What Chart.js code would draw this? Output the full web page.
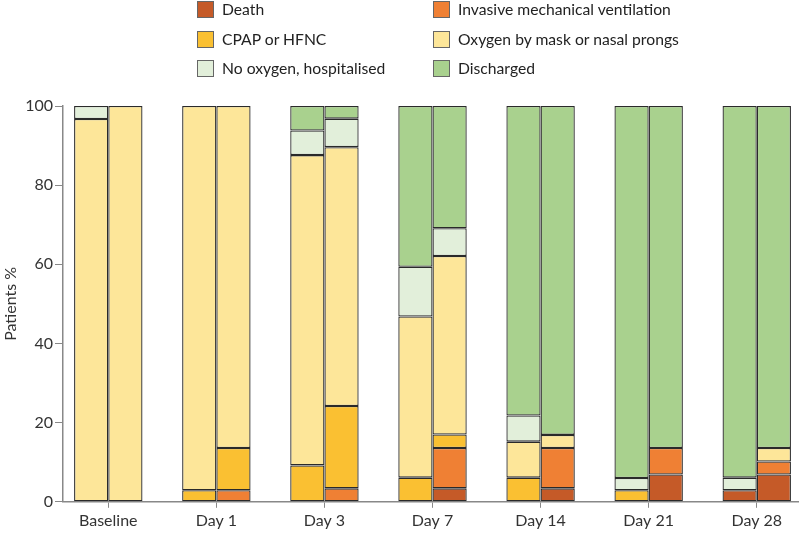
<!DOCTYPE html>
<html>
<head>
<meta charset="utf-8">
<script src="https://cdn.jsdelivr.net/npm/chart.js@4.4.1/dist/chart.umd.min.js"></script>
<style>
body{margin:0;background:#fff;font-family:Lato,sans-serif;}
#wrap{position:relative;width:799px;height:536px;overflow:hidden;}
#legend{position:absolute;left:0;top:0;width:799px;height:90px;}
.item{position:absolute;display:flex;align-items:center;height:20px;font-size:15.7px;color:#222;white-space:nowrap;}
.box{width:17px;height:17px;border:1px solid #666;margin-right:8px;box-sizing:border-box;}
</style>
</head>
<body>
<div id="wrap">
<canvas id="chart" width="799" height="536"></canvas>
<div id="legend"></div>
</div>
<script>
const categories = ["Baseline","Day 1","Day 3","Day 7","Day 14","Day 21","Day 28"];
const outcomes = ["Death","Invasive mechanical ventilation","CPAP or HFNC","Oxygen by mask or nasal prongs","No oxygen, hospitalised","Discharged"];
const colors = ["#c55a28","#ef8034","#fac032","#fde699","#e2efda","#a9d18e"];

// left bar of each pair
const deathA      = [0,0,0,0,0,0,2.9];
const imvA        = [0,0,0,0,0,0,0];
const cpapA       = [0,2.9,9.2,6.1,6.1,2.9,0];
const oxygenA     = [96.7,97.1,78.4,40.7,9.1,0,0];
const noOxygenA   = [3.3,0,6.2,12.6,6.6,3.1,3.2];
const dischargedA = [0,0,6.2,40.6,78.2,94,93.9];

// right bar of each pair
const deathB      = [0,0,0,3.4,3.4,6.9,6.9];
const imvB        = [0,2.9,3.4,10.2,10.2,6.7,3.3];
const cpapB       = [0,10.7,20.8,3.4,0,0,0];
const oxygenB     = [100,86.4,65.4,45.1,3.3,0,3.4];
const noOxygenB   = [0,0,7.2,7.0,0,0,0];
const dischargedB = [0,0,3.2,30.9,83.1,86.4,86.4];

const groupA = [deathA,imvA,cpapA,oxygenA,noOxygenA,dischargedA];
const groupB = [deathB,imvB,cpapB,oxygenB,noOxygenB,dischargedB];

const font = {family:"Lato", size:16};
const datasets = [];
[["A",groupA],["B",groupB]].forEach(([stack,arrs])=>{
    arrs.forEach((arr,k)=>{
        datasets.push({
            label: outcomes[k],
            stack: stack,
            data: arr.map((v,i)=>({x:i, y: v ? v : null})),
            backgroundColor: colors[k],
            borderColor: "#2a2a2a",
            borderWidth: 1.3,
            borderSkipped: false
        });
    });
});

new Chart(document.getElementById("chart"),{
    type:"bar",
    data:{datasets:datasets},
    options:{
        responsive:false,
        animation:false,
        layout:{padding:{top:106,right:0,bottom:3,left:0}},
        datasets:{bar:{barPercentage:1,categoryPercentage:0.633}},
        plugins:{legend:{display:false},tooltip:{enabled:false}},
        scales:{
            x:{
                type:"linear",
                offset:false,
                min:-0.419,
                max:6.391,
                afterBuildTicks:s=>{ s.ticks = categories.map((c,i)=>({value:i})); },
                ticks:{callback:v=>categories[v],color:"#333",font:font,padding:3,autoSkip:false,maxRotation:0},
                grid:{offset:false,drawOnChartArea:false,tickLength:6,color:"#888"},
                border:{color:"#888",width:1.5}
            },
            y:{
                stacked:true,
                min:0,
                max:100,
                ticks:{stepSize:20,color:"#333",font:font,padding:2},
                grid:{drawOnChartArea:false,tickLength:8,color:"#888"},
                border:{color:"#888",width:1.5},
                title:{display:true,text:"Patients %",color:"#333",font:font,padding:{top:1,bottom:0}},
                afterFit:s=>{ s.width = 63; }
            }
        }
    }
});

// legend, two columns
const legend = document.getElementById("legend");
const colX = [197,433];
const rowY = [9,39,68];
outcomes.forEach((name,k)=>{
    const d = document.createElement("div");
    d.className = "item";
    d.style.left = colX[k%2]+"px";
    d.style.top = (rowY[Math.floor(k/2)]-10)+"px";
    d.innerHTML = `<span class="box" style="background:${colors[k]}"></span><span>${name}</span>`;
    legend.appendChild(d);
});
</script>
</body>
</html>
